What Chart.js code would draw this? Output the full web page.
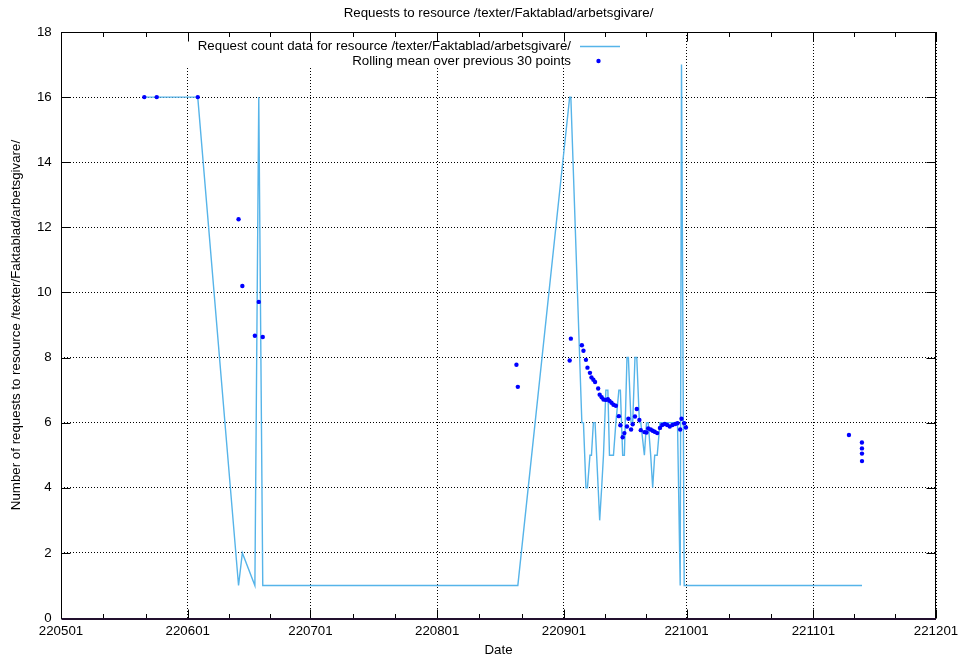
<!DOCTYPE html>
<html>
<head>
<meta charset="utf-8">
<script src="https://cdn.jsdelivr.net/npm/chart.js@4.4.1/dist/chart.umd.min.js"></script>
<style>
  html, body { margin: 0; padding: 0; background: #fff; }
  #wrap { width: 959px; height: 662px; }
</style>
</head>
<body>
<div id="wrap"><canvas id="myChart" width="959" height="662"></canvas></div>
<script>
const chartTitle = 'Requests to resource /texter/Faktablad/arbetsgivare/';
const tickLabels = ['220501', '220601', '220701', '220801', '220901', '221001', '221101', '221201'];
const yMax = 18;
const yStep = 2;

const dates = [
  '220521 09:00', '220524 10:00', '220603 10:40', '220613 10:10', '220614 08:30', '220617 10:00', '220618 08:50', '220619 08:20',
  '220820 09:20', '220820 17:30', '220902 09:40', '220902 16:40',
  '220905 09:20', '220905 18:40', '220906 09:20', '220906 18:10', '220907 08:50', '220907 17:40', '220908 04:50', '220908 14:50',
  '220909 09:00', '220909 17:50', '220910 05:30', '220910 16:10', '220911 06:20', '220911 18:00', '220912 03:20', '220912 15:10',
  '220913 02:50', '220913 17:00', '220914 10:30', '220914 19:20', '220915 08:50', '220915 18:50', '220916 10:10', '220916 18:20',
  '220917 10:10', '220917 19:40', '220918 09:10', '220918 19:40', '220919 11:00', '220919 19:10', '220920 16:20', '220921 04:40',
  '220921 14:40', '220922 05:20', '220922 17:00', '220923 04:50', '220923 19:30', '220924 11:50', '220925 00:50', '220925 16:10',
  '220926 06:10', '220926 21:30', '220927 13:20', '220928 05:10', '220928 18:40', '220929 10:30', '220929 18:10', '220930 10:00',
  '220930 20:00', '221109 17:00', '221112 21:10', '221112 21:20', '221112 21:30', '221112 21:40'
];

const requestCounts = [
  16, 16, 16, 1, 2, 1, 16, 1,
  1, 1, 16, 16,
  6, 6, 4, 4, 5, 5, 6, 6,
  4, 3, 4, 5, 7, 7, 5, 5,
  5, 6, 7, 7, 5, 5, 8, 8,
  6, 6, 8, 8, 6, 6, 5, 6,
  6, 5, 4, 5, 5, 6, 6, 6,
  6, 6, 6, 6, 6, 1, 17, 1,
  1, 1, 1, 1, 1, 1
];

const rollingMeans = [
  16, 16, 16, 12.25, 10.2, 8.67, 9.71, 8.63,
  7.78, 7.1, 7.91, 8.58,
  8.38, 8.21, 7.93, 7.69, 7.53, 7.39, 7.32, 7.25,
  7.05, 6.86, 6.78, 6.71, 6.7, 6.72, 6.67, 6.61,
  6.55, 6.52, 6.2, 5.92, 5.55, 5.68, 5.88, 6.12,
  5.79, 5.95, 6.19, 6.42, 6.08, 5.77, 5.71, 5.7,
  5.82, 5.79, 5.75, 5.72, 5.68, 5.84, 5.93, 5.96,
  5.93, 5.88, 5.93, 5.96, 5.98, 5.79, 6.12, 5.98,
  5.85, 5.62, 5.39, 5.21, 5.05, 4.82
];

// 'YYMMDD HH:MM' -> days since first tick
const origin = Date.UTC(2000 + +tickLabels[0].slice(0, 2), +tickLabels[0].slice(2, 4) - 1, +tickLabels[0].slice(4, 6));
function dayOf(s) {
  const y = 2000 + +s.slice(0, 2), m = +s.slice(2, 4) - 1, d = +s.slice(4, 6);
  const h = s.length > 6 ? +s.slice(7, 9) : 0;
  const mi = s.length > 6 ? +s.slice(10, 12) : 0;
  return (Date.UTC(y, m, d, h, mi) - origin) / 86400000;
}
const tickDays = tickLabels.map(dayOf);

const lineColor = '#56b4e9';
const dotColor = '#0000ff';
const font = { family: 'Liberation Sans, Arial, sans-serif', size: 13.3 };

const countPoints = dates.map((t, i) => ({ x: dayOf(t), y: requestCounts[i] }));
const meanPoints = dates.map((t, i) => ({ x: dayOf(t), y: rollingMeans[i] }));

// gnuplot style title, key, border and inward tics
const gnuFrame = {
  id: 'gnuFrame',
  afterDatasetsDraw(chart) {
    const ctx = chart.ctx;
    const a = chart.chartArea;
    const xs = chart.scales.x, ys = chart.scales.y;
    ctx.save();
    ctx.font = font.size + 'px ' + font.family;
    ctx.textBaseline = 'middle';

    // title, centred on the plot
    ctx.fillStyle = '#000';
    ctx.textAlign = 'center';
    ctx.fillText(chartTitle, (a.left + a.right) / 2, 13);

    // key
    ctx.fillStyle = '#fff';
    ctx.fillRect(180, a.top + 1, 452, 35);
    ctx.fillStyle = '#000';
    ctx.textAlign = 'right';
    ctx.fillText(chart.data.datasets[0].label, 571, 46);
    ctx.fillText(chart.data.datasets[1].label, 571, 61);
    ctx.strokeStyle = lineColor;
    ctx.lineWidth = 1.4;
    ctx.beginPath();
    ctx.moveTo(580, 46.5);
    ctx.lineTo(620, 46.5);
    ctx.stroke();
    ctx.fillStyle = dotColor;
    ctx.beginPath();
    ctx.arc(598.5, 61, 2.2, 0, Math.PI * 2);
    ctx.fill();

    // border
    ctx.strokeStyle = '#000';
    ctx.lineWidth = 1;
    const l = Math.round(a.left) + 0.5, r = Math.round(a.right) - 0.5;
    const t = Math.round(a.top) + 0.5, b = Math.round(a.bottom) + 0.5;
    ctx.strokeRect(l, t, r - l, b - t);

    // tics
    ctx.beginPath();
    tickDays.forEach((v, i) => {
      const px = Math.round(xs.getPixelForValue(v)) + 0.5;
      ctx.moveTo(px, b); ctx.lineTo(px, b - 9);
      ctx.moveTo(px, t); ctx.lineTo(px, t + 9);
      if (i < tickDays.length - 1) {
        const step = (tickDays[i + 1] - v) / 3;
        for (let k = 1; k < 3; k++) {
          const mx = Math.round(xs.getPixelForValue(v + k * step)) + 0.5;
          ctx.moveTo(mx, b); ctx.lineTo(mx, b - 4.5);
          ctx.moveTo(mx, t); ctx.lineTo(mx, t + 4.5);
        }
      }
    });
    for (let v = 0; v <= yMax; v += yStep) {
      const py = Math.round(ys.getPixelForValue(v)) + 0.5;
      ctx.moveTo(l, py); ctx.lineTo(l + 9, py);
      ctx.moveTo(r, py); ctx.lineTo(r - 9, py);
    }
    ctx.stroke();

    ctx.strokeStyle = '#22102e';
    ctx.lineWidth = 2;
    ctx.beginPath();
    ctx.moveTo(l, b + 0.5);
    ctx.lineTo(r + 0.5, b + 0.5);
    ctx.stroke();
    ctx.restore();
  }
};

const ctx = document.getElementById('myChart');

const myChart = new Chart(ctx, {
  type: 'line',
  data: {
    datasets: [{
      label: 'Request count data for resource /texter/Faktablad/arbetsgivare/',
      data: countPoints,
      borderColor: lineColor,
      backgroundColor: lineColor,
      borderWidth: 1.4,
      pointRadius: 0,
      tension: 0,
      fill: false,
      order: 2
    }, {
      type: 'scatter',
      label: 'Rolling mean over previous 30 points',
      data: meanPoints,
      backgroundColor: dotColor,
      borderColor: dotColor,
      borderWidth: 0,
      pointRadius: 2.2,
      showLine: false,
      order: 1
    }]
  },
  options: {
    responsive: false,
    animation: false,
    layout: { padding: { left: 0, right: 23, top: 32, bottom: 0 } },
    plugins: {
      legend: { display: false },
      tooltip: { enabled: false },
      title: { display: false }
    },
    scales: {
      x: {
        type: 'linear',
        min: tickDays[0],
        max: tickDays[tickDays.length - 1],
        afterBuildTicks: s => { s.ticks = tickDays.map(v => ({ value: v })); },
        afterFit: s => { s.height = 44; s.paddingLeft = 0; s.paddingRight = 0; },
        ticks: {
          callback: (v, i) => tickLabels[i],
          color: '#000',
          font: font,
          padding: 5.7,
          maxRotation: 0,
          autoSkip: false
        },
        grid: { color: '#000', lineWidth: 1, drawTicks: false },
        border: { display: false, dash: [1, 2] },
        title: { display: true, text: 'Date', color: '#000', font: font, padding: { top: 0, bottom: 4 } }
      },
      y: {
        min: 0,
        max: yMax,
        afterFit: s => { s.width = 61; s.paddingTop = 0; s.paddingBottom = 0; },
        ticks: { stepSize: yStep, color: '#000', font: font, padding: 9.3 },
        grid: { color: '#000', lineWidth: 1, drawTicks: false },
        border: { display: false, dash: [1, 2] },
        title: {
          display: true,
          text: 'Number of requests to resource /texter/Faktablad/arbetsgivare/',
          color: '#000',
          font: font,
          padding: { top: 8, bottom: 0 }
        }
      }
    }
  },
  plugins: [gnuFrame]
});
</script>
</body>
</html>
